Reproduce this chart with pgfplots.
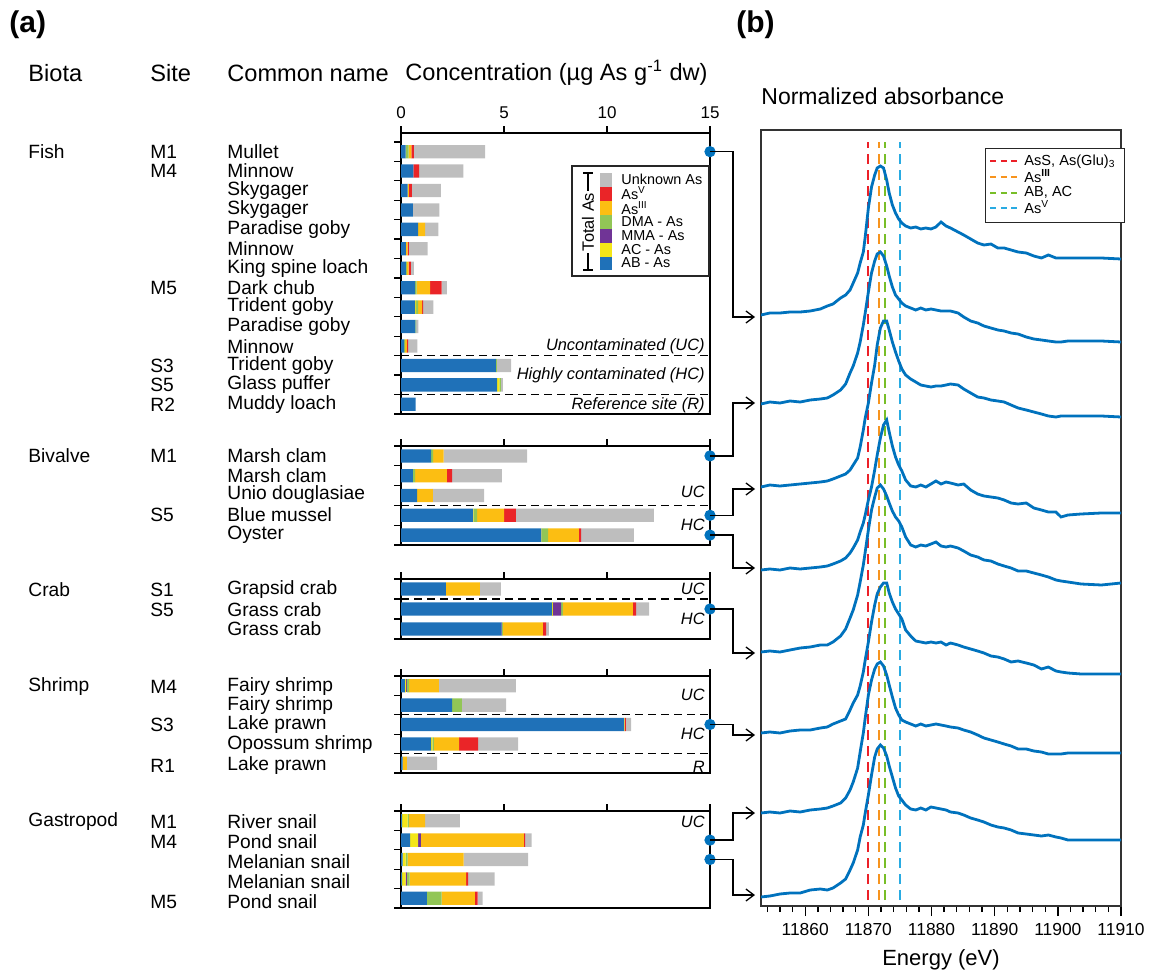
\documentclass[border=0pt]{standalone}
\usepackage{fontspec}
\setmainfont{Liberation Sans}
\usepackage{pgfplots}
\usepackage{pgfplotstable}
\pgfplotsset{compat=1.18}
\usetikzlibrary{arrows.meta}

\definecolor{cAB}{RGB}{31,113,184}
\definecolor{cAC}{RGB}{244,230,24}
\definecolor{cMMA}{RGB}{112,52,150}
\definecolor{cDMA}{RGB}{146,198,86}
\definecolor{cIII}{RGB}{252,190,18}
\definecolor{cV}{RGB}{234,37,40}
\definecolor{cU}{RGB}{190,190,190}
\definecolor{cLine}{RGB}{0,114,189}
\definecolor{dRed}{RGB}{236,32,40}
\definecolor{dOrange}{RGB}{247,148,30}
\definecolor{dGreen}{RGB}{120,190,40}
\definecolor{dBlue}{RGB}{41,171,226}

% As species, ug As / g dw (AB AC MMA DMA AsIII AsV unknown)
\pgfplotstableread{
r AB AC MMA DMA III V U
1 0.23 0 0 0.14 0.13 0.13 3.45
2 0.60 0 0 0 0 0.28 2.15
3 0.32 0 0 0 0.06 0.15 1.40
4 0.58 0 0 0 0 0 1.28
5 0.83 0 0 0 0.34 0 0.64
6 0.24 0 0 0 0.08 0.06 0.91
7 0.24 0 0 0.05 0.08 0.11 0.15
8 0.68 0 0 0.08 0.65 0.56 0.26
9 0.68 0.05 0 0.10 0.19 0.05 0.50
10 0.70 0 0 0.03 0 0 0.11
11 0.15 0 0 0.05 0.08 0.06 0.45
12 4.61 0 0 0.04 0 0 0.69
13 4.66 0.11 0 0.08 0 0 0.09
14 0.71 0 0 0 0 0 0
}\fish
\pgfplotstableread{
r AB AC MMA DMA III V U
1 1.46 0 0 0.10 0.51 0 4.05
2 0.58 0 0 0.10 1.55 0.25 2.42
3 0.78 0 0 0 0.77 0 2.48
4 3.50 0.03 0 0.16 1.31 0.58 6.70
5 6.81 0.03 0 0.30 1.50 0.10 2.57
}\bivalve
\pgfplotstableread{
r AB AC MMA DMA III V U
1 2.18 0 0 0 1.65 0 1.02
2 7.33 0.05 0.39 0.09 3.40 0.15 0.63
3 4.87 0 0.03 0.05 1.94 0.15 0.14
}\crab
\pgfplotstableread{
r AB AC MMA DMA III V U
1 0.19 0.06 0.05 0.09 1.45 0 3.74
2 2.48 0 0 0.48 0 0 2.14
3 10.83 0.03 0 0 0 0.06 0.25
4 1.46 0.06 0 0.08 1.22 0.92 1.94
5 0.08 0 0 0 0.21 0 1.46
}\shrimp
\pgfplotstableread{
r AB AC MMA DMA III V U
1 0.05 0.27 0 0.06 0.79 0 1.69
2 0.44 0.39 0.14 0 5.00 0.05 0.32
3 0.08 0.15 0 0.09 2.72 0 3.13
4 0.05 0.18 0.05 0.14 2.74 0.10 1.29
5 1.25 0 0 0.72 1.62 0.13 0.24
}\gastro

% XANES spectra, stacked with offsets (arbitrary units)
\pgfplotstableread{
E c1 c2 c3 c4 c5 c6 c7 c8
11853.0 591 502 419 336 254 173 93 9
11854.4 593 504 421 337 255 174 94 10
11856.0 593 503 420 336 254 173 93 12
11857.6 594 505 421 338 256 175 95 13
11859.2 594 504 422 337 258 176 94 13
11860.8 595 506 423 338 259 176 96 16
11862.4 597 507 424 339 261 178 97 17
11863.5 600 508 425 340 261 179 98 16
11864.4 602 511 427 342 264 182 100 18
11865.6 608 516 430 345 270 185 103 23
11866.4 611 522 432 348 277 187 108 27
11867.1 616 533 436 353 288 196 116 36
11867.6 623 540 441 358 296 203 124 43
11868.3 633 553 448 366 311 211 138 56
11868.7 643 564 459 374 324 220 154 69
11869.2 654 581 476 383 341 234 173 81
11869.5 669 593 488 391 354 246 188 93
11870.0 698 614 503 406 376 264 211 111
11870.5 719 633 523 419 396 284 226 131
11871.0 731 645 541 436 409 301 237 149
11871.4 738 652 561 451 418 312 242 157
11871.9 740 654 578 468 421 319 244 161
11872.4 738 650 585 481 417 323 240 158
11872.9 726 640 585 486 410 323 231 150
11873.3 713 630 576 474 403 313 221 140
11873.8 701 619 564 460 395 304 209 129
11874.3 693 611 554 449 389 297 198 118
11874.8 687 607 545 441 385 292 191 110
11875.3 683 603 537 435 379 287 186 106
11875.9 680 600 531 426 369 276 184 101
11876.7 678 598 527 420 361 270 182 97
11877.5 679 596 524 419 359 265 180 96
11878.3 677 598 521 421 361 264 182 98
11879.1 678 596 520 419 360 263 180 96
11879.9 677 597 519 422 362 264 181 99
11880.7 679 596 520 425 364 263 182 98
11881.5 684 595 520 422 360 264 181 97
11882.3 680 595 521 424 359 261 180 96
11883.0 678 595 522 423 360 263 179 94
11884.2 674 593 521 421 358 261 178 93
11885.1 671 589 517 422 355 259 176 91
11886.2 667 585 513 416 351 257 174 88
11887.3 663 583 509 412 349 255 171 86
11888.3 661 580 508 410 346 253 168 84
11889.4 662 578 506 409 345 250 166 81
11890.5 658 576 505 408 342 249 164 79
11891.5 658 575 504 406 340 247 162 78
11892.6 656 573 501 403 338 244 160 76
11893.7 654 572 498 402 335 245 157 73
11895.0 653 569 496 403 335 243 157 72
11896.2 650 567 494 398 333 241 155 71
11897.4 648 566 492 396 331 237 154 70
11898.5 651 565 490 394 329 239 152 71
11899.7 648 564 489 394 326 235 152 69
11900.5 648 564 490 389 325 234 152 68
11901.6 648 565 490 391 324 233 153 66
11903.7 648 565 490 392 322 232 153 66
11906.9 648 565 490 393 321 232 153 66
11910.0 647 564 489 393 323 232 153 66
}\xanes

\newcommand{\stackbars}[1]{%
  \addplot[fill=cAB,draw=none] table[x=AB,y=r]{#1};
  \addplot[fill=cAC,draw=none] table[x=AC,y=r]{#1};
  \addplot[fill=cMMA,draw=none] table[x=MMA,y=r]{#1};
  \addplot[fill=cDMA,draw=none] table[x=DMA,y=r]{#1};
  \addplot[fill=cIII,draw=none] table[x=III,y=r]{#1};
  \addplot[fill=cV,draw=none] table[x=V,y=r]{#1};
  \addplot[fill=cU,draw=none] table[x=U,y=r]{#1};
}

\pgfplotsset{
  /pgf/number format/assume math mode=true,
  /pgf/number format/1000 sep={},
  barax/.style={
    scale only axis, width=154.5pt, anchor=north west,
    xmin=0, xmax=15, y dir=reverse, enlargelimits=false,
    xbar stacked, bar width=6.65pt, clip=false,
    xtick={0,5,10,15}, xtick pos=right, xticklabel pos=right,
    ytick pos=left, yticklabels={},
    tick align=outside, major tick length=3.5pt,
    axis line style={line width=0.65pt},
    tick style={black, line width=0.65pt},
    xticklabel style={font=\fontsize{8.5}{10}\selectfont},
  },
  sepline/.style={sharp plot, stack plots=false, black, fill=none, line width=0.6pt,
    dash pattern=on 4pt off 2.5pt, forget plot},
  dotmark/.style={only marks, stack plots=false, mark=*, mark size=2.6pt,
    color=cLine, mark options={fill=cLine, draw=cLine}, forget plot},
  refline/.style={line width=0.95pt, dash pattern=on 5pt off 3pt},
}

\newcommand{\fhead}{\fontsize{11.8}{13}\selectfont}
\newcommand{\frow}{\fontsize{9.6}{11}\selectfont}
\newcommand{\fanno}{\fontsize{8.2}{9}\selectfont\itshape}
\newcommand{\fleg}{\fontsize{7.2}{8}\selectfont}

\begin{document}
\begin{tikzpicture}

% ---------- (a) stacked bars ----------
\begin{axis}[barax, at={(200.5pt,-66.5pt)}, height=140.5pt,
  ymin=0.04, ymax=14.5, ytick={0.5,1.5,...,14.5}]
\stackbars{\fish}
\addplot[sepline] coordinates {(0,11.5) (15,11.5)};
\addplot[sepline] coordinates {(0,13.5) (15,13.5)};
\addplot[dotmark] coordinates {(15,1)};
\end{axis}

\begin{axis}[barax, at={(200.5pt,-223pt)}, height=49.5pt, xticklabels={},
  ymin=0.5, ymax=5.5, ytick={0.5,1.5,...,5.5}]
\stackbars{\bivalve}
\addplot[sepline] coordinates {(0,3.5) (15,3.5)};
\addplot[dotmark] coordinates {(15,1) (15,4) (15,5)};
\end{axis}

\begin{axis}[barax, at={(200.5pt,-289.5pt)}, height=30pt, xticklabels={},
  ymin=0.5, ymax=3.5, ytick={0.5,1.5,...,3.5}]
\stackbars{\crab}
\addplot[sepline] coordinates {(0,1.5) (15,1.5)};
\addplot[dotmark] coordinates {(15,2)};
\end{axis}

\begin{axis}[barax, at={(200.5pt,-338pt)}, height=48.5pt, xticklabels={},
  ymin=0.5, ymax=5.5, ytick={0.5,1.5,...,5.5}]
\stackbars{\shrimp}
\addplot[sepline] coordinates {(0,2.5) (15,2.5)};
\addplot[sepline] coordinates {(0,4.5) (15,4.5)};
\addplot[dotmark] coordinates {(15,3)};
\end{axis}

\begin{axis}[barax, at={(200.5pt,-405.5pt)}, height=48.5pt, xticklabels={},
  ymin=0.5, ymax=5.5, ytick={0.5,1.5,...,5.5}]
\stackbars{\gastro}
\addplot[dotmark] coordinates {(15,2) (15,3)};
\end{axis}

% ---------- (b) XANES ----------
\begin{axis}[at={(380.5pt,-65pt)}, anchor=north west, scale only axis,
  width=180pt, height=388pt,
  xmin=11853, xmax=11910, ymin=0, ymax=776, ytick=\empty,
  xtick={11860,11870,11880,11890,11900,11910},
  minor xtick={11854,11856,...,11908},
  scaled x ticks=false,
  xticklabel style={/pgf/number format/fixed, font=\fontsize{8.7}{10}\selectfont},
  xtick pos=left, tick align=outside,
  major tick length=5pt, minor tick length=3pt,
  tick style={black, line width=0.7pt},
  axis line style={black!80, line width=0.7pt},
  xlabel={Energy (eV)}, xlabel style={font=\fontsize{11}{12}\selectfont},
  legend style={at={(0.622,0.977)}, anchor=north west, font=\fontsize{7.3}{8}\selectfont,
    draw=black!85, line width=0.6pt, inner xsep=2pt, inner ysep=2pt,
    row sep=-1.5pt, nodes={inner xsep=2.5pt, inner ysep=1pt}},
  legend cell align=left,
  legend image code/.code={\draw[#1, dash pattern=on 3pt off 2.2pt] (2pt,0pt) -- (16pt,0pt);},
]
\addplot[dRed, refline] coordinates {(11870,6) (11870,764)};
\addlegendentry{AsS, As(Glu)\textsubscript{3}}
\addplot[dOrange, refline] coordinates {(11871.7,6) (11871.7,764)};
\addlegendentry{As\textsuperscript{\textbf{III}}}
\addplot[dGreen, refline] coordinates {(11872.7,6) (11872.7,764)};
\addlegendentry{AB, AC}
\addplot[dBlue, refline] coordinates {(11875,6) (11875,764)};
\addlegendentry{As\textsuperscript{V}}
\addplot[cLine, line width=1.4pt, forget plot] table[x=E,y=c1]{\xanes};
\addplot[cLine, line width=1.4pt, forget plot] table[x=E,y=c2]{\xanes};
\addplot[cLine, line width=1.4pt, forget plot] table[x=E,y=c3]{\xanes};
\addplot[cLine, line width=1.4pt, forget plot] table[x=E,y=c4]{\xanes};
\addplot[cLine, line width=1.4pt, forget plot] table[x=E,y=c5]{\xanes};
\addplot[cLine, line width=1.4pt, forget plot] table[x=E,y=c6]{\xanes};
\addplot[cLine, line width=1.4pt, forget plot] table[x=E,y=c7]{\xanes};
\addplot[cLine, line width=1.4pt, forget plot] table[x=E,y=c8]{\xanes};
\end{axis}

% ---------- annotations (pixel grid) ----------
\begin{scope}[x=0.5pt, y=-0.5pt]
\path[use as bounding box] (0,0) rectangle (1152,979);

\node[anchor=west, inner sep=0, font=\bfseries\fontsize{15}{16}\selectfont] at (9,25) {(a)};
\node[anchor=west, inner sep=0, font=\bfseries\fontsize{15}{16}\selectfont] at (736,25) {(b)};
\node[anchor=west, inner sep=0, font=\fhead] at (28,73) {Biota};
\node[anchor=west, inner sep=0, font=\fhead] at (150,73) {Site};
\node[anchor=west, inner sep=0, font=\fhead] at (227,73) {Common name};
\node[anchor=west, inner sep=0, font=\fhead] at (405,73) {Concentration (µg As g\textsuperscript{-1} dw)};
\node[anchor=west, inner sep=0, font=\fontsize{11.5}{13}\selectfont] at (761,96) {Normalized absorbance};

\foreach \y/\t in {152/Fish, 456/Bivalve, 590/Crab, 687/Shrimp, 822/Gastropod}
  \node[anchor=west, inner sep=0, font=\frow] at (28,\y) {\t};
\foreach \y/\t in {152/M1, 171/M4, 288/M5, 366/S3, 385/S5, 405/R2, 456/M1, 515/S5,
    590/S1, 610/S5, 687/M4, 725/S3, 766/R1, 822/M1, 842/M4, 902/M5}
  \node[anchor=west, inner sep=0, font=\frow] at (150,\y) {\t};
\foreach \y/\t in {152/Mullet, 171/Minnow, 191/Skygager, 210/Skygager, 230/Paradise goby,
    249/Minnow, 269/King spine loach, 288/Dark chub, 307/Trident goby, 327/Paradise goby,
    347/Minnow, 366/Trident goby, 385/Glass puffer, 405/Muddy loach,
    456/Marsh clam, 476/Marsh clam, 495/Unio douglasiae, 515/Blue mussel, 535/Oyster,
    590/Grapsid crab, 610/Grass crab, 629/Grass crab,
    687/Fairy shrimp, 706/Fairy shrimp, 725/Lake prawn, 745/Opossum shrimp, 766/Lake prawn,
    822/River snail, 842/Pond snail, 862/Melanian snail, 882/Melanian snail, 902/Pond snail}
  \node[anchor=west, inner sep=0, font=\frow] at (227,\y) {\t};

\foreach \y/\t in {346/Uncontaminated (UC), 375/Highly contaminated (HC), 405/Reference site (R),
    492/UC, 525/HC, 589/UC, 619/HC, 695/UC, 734/HC, 767/R, 822/UC}
  \node[anchor=east, inner sep=0, font=\fanno] at (705,\y) {\t};

% legend of species
\filldraw[fill=white, draw=black!85, line width=0.6pt] (572,166) rectangle (709,276);
\fill[cU]   (600,173) rectangle (612,187);
\fill[cV]   (600,187) rectangle (612,201);
\fill[cIII] (600,201) rectangle (612,215);
\fill[cDMA] (600,215) rectangle (612,229);
\fill[cMMA] (600,229) rectangle (612,243);
\fill[cAC]  (600,243) rectangle (612,257);
\fill[cAB]  (600,257) rectangle (612,270);
\foreach \y/\t in {179/Unknown As, 193/As\textsuperscript{V}, 208/As\textsuperscript{III},
    222/DMA - As, 236/MMA - As, 250/AC - As, 263/AB - As}
  \node[anchor=west, inner sep=0, font=\fleg] at (621,\y) {\t};
\draw[line width=0.8pt] (588,173) -- (588,270);
\draw[line width=0.8pt] (583,173) -- (593,173);
\draw[line width=0.8pt] (583,270) -- (593,270);
\node[rotate=90, fill=white, inner sep=1pt, font=\fontsize{8.2}{9}\selectfont] at (588,222) {Total As};

% connectors from samples to spectra
\foreach \a/\b in {151.7/317, 455.9/403, 515.3/489, 535.1/568, 609/653, 724.5/735, 840.1/813, 859.5/895}
  \draw[line width=0.65pt, -{Straight Barb[length=4pt,width=6pt]}]
    (710,\a) -- (733,\a) -- (733,\b) -- (755,\b);
\end{scope}
\end{tikzpicture}
\end{document}
